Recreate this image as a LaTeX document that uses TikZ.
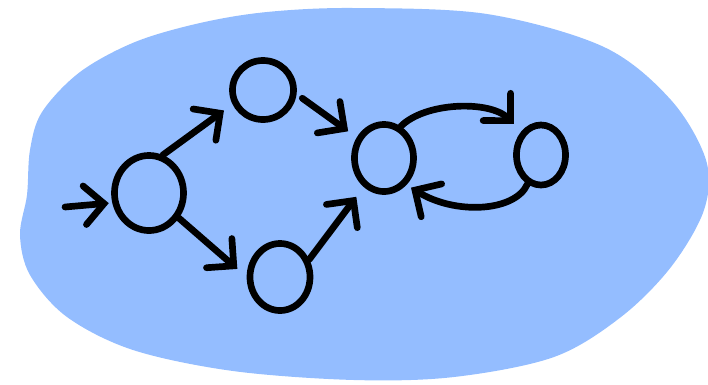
\documentclass[tikz,border=0pt]{standalone}
\usetikzlibrary{shapes.geometric, arrows.meta}
\definecolor{BlobColor}{RGB}{148,189,255}
\tikzset{
    loc/.style={
        ellipse,
        draw=black,
        line width=1.9pt,
        inner sep=0pt
    },
    trans/.style={
        -{Straight Barb[length=5.5pt, width=11pt, line cap=round]},
        line width=1.9pt,
        line cap=round
    }
}

\begin{document}
\begin{tikzpicture}[x=0.01cm, y=-0.01cm]
\useasboundingbox (0,0) rectangle (708,384);

% Blob
\fill[BlobColor] plot[smooth cycle, tension=0.55] coordinates {
    (354,8) (487,14) (604,47) (671,100) (706,160) (704,210) (671,267)
    (621,317) (554,357) (454,377) (354,380) (233,371) (133,350)
    (67,317) (30,275) (20,235) (27,195) (30,150) (42,112)
    (80,72) (135,42) (200,23) (267,12)
};

% States
\node[loc, minimum width=0.69cm, minimum height=0.75cm] (q0) at (149,193) {};
\node[loc, minimum width=0.61cm, minimum height=0.59cm] (q1) at (263,90) {};
\node[loc, minimum width=0.60cm, minimum height=0.67cm] (q2) at (280,277) {};
\node[loc, minimum width=0.59cm, minimum height=0.67cm] (q3) at (384,158) {};
\node[loc, minimum width=0.49cm, minimum height=0.60cm] (q4) at (541,155) {};

% Initial arrow
\coordinate (init) at (65,207);
\draw[trans, shorten >=1pt] (init) -- (q0.195);

% Transitions
\draw[trans, shorten >=3pt] (q0.70) -- (q1.205);
\draw[trans, shorten >=3.5pt] (q0.-40) -- (q2.180);
\draw[trans, shorten <=2pt, shorten >=3pt] (q1.-7) -- (q3.143);
\draw[trans, shorten >=3.5pt] (q2.31) -- (q3.235);

% Loop between q3 and q4
\draw[trans, shorten >=3pt] (q3.62) .. controls (425,102) and (490,100) .. (q4.130);
\draw[trans, shorten >=1.5pt] (q4.245) .. controls (515,212) and (455,215) .. (q3.310);

\end{tikzpicture}
\end{document}
